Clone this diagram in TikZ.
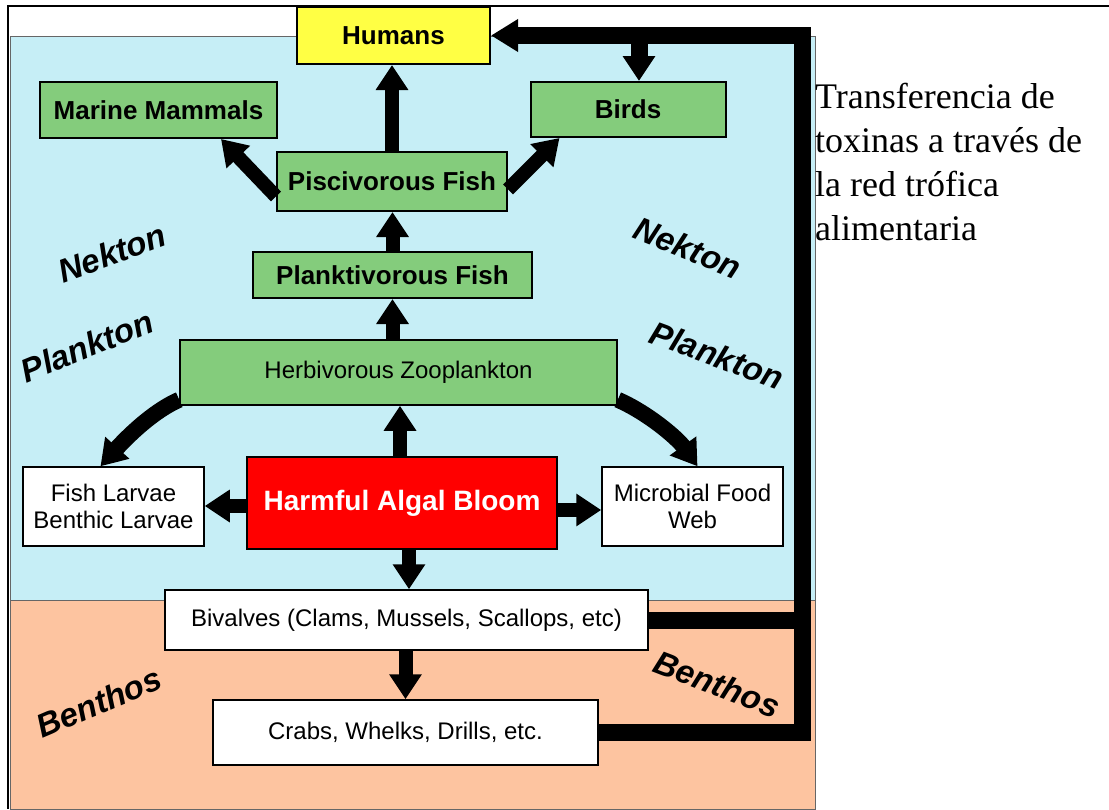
\documentclass[tikz,border=0pt]{standalone}
\usepackage{fontspec}
\setmainfont{Liberation Sans}
\newfontfamily\tnrfont{Liberation Serif}
\usetikzlibrary{arrows.meta}
\definecolor{seaBlue}{RGB}{198,238,246}
\definecolor{sandCol}{RGB}{253,196,160}
\definecolor{boxGreen}{RGB}{132,204,124}
\definecolor{boxYellow}{RGB}{255,255,68}

\begin{document}
\begin{tikzpicture}[x=1pt,y=-1pt,
  bx/.style={draw=black,line width=2pt,inner sep=0pt,align=center},
  grn/.style={bx,fill=boxGreen,font=\fontsize{26}{30}\selectfont\bfseries},
  wht/.style={bx,fill=white,line width=1.5pt,font=\fontsize{24}{27}\selectfont},
  fat/.style={line width=14pt,-{Triangle[length=25pt,width=31pt]}},
  feed/.style={line width=17pt},
  zone/.style={font=\fontsize{33}{33}\selectfont\bfseries\itshape}]
\useasboundingbox (0,0) rectangle (1109,809);

% water and bottom
\filldraw[fill=seaBlue,draw=black!60,line width=0.8pt] (10,36) rectangle (815,600);
\filldraw[fill=sandCol,draw=black!60,line width=0.8pt] (10,600) rectangle (815,809);
\draw[line width=2pt] (1109,6) -- (8,6) -- (8,809);

\coordinate (cTopR) at (802,35.5);
\coordinate (cDrop) at (639,35.5);

\node[bx,fill=boxYellow,minimum width=193pt,minimum height=57pt,
  font=\fontsize{26}{30}\selectfont\bfseries] (nHum) at (393.5,35.5) {Humans};
\node[grn,minimum width=237pt,minimum height=56pt] (nMM) at (158.5,110) {Marine Mammals};
\node[grn,minimum width=195pt,minimum height=55pt] (nBirds) at (628,109.5) {Birds};
\node[grn,minimum width=230pt,minimum height=59pt] (nPisc) at (392,181.5) {Piscivorous Fish};
\node[grn,minimum width=279pt,minimum height=46pt] (nPlank) at (392.5,275) {Planktivorous Fish};
\node[bx,fill=boxGreen,line width=1.5pt,minimum width=437pt,minimum height=65pt,
  font=\fontsize{24}{27}\selectfont] (nZoo) at (398.5,372.5) {Herbivorous Zooplankton};
\node[wht,minimum width=181pt,minimum height=79pt] (nLarv) at (113.5,506.5) {Fish Larvae\\Benthic Larvae};
\node[bx,fill=red,minimum width=310pt,minimum height=92pt,text=white,
  font=\fontsize{28}{32}\selectfont\bfseries] (nHab) at (402,503) {Harmful Algal Bloom};
\node[wht,minimum width=181pt,minimum height=79pt] (nMic) at (692.5,506.5) {Microbial Food\\Web};
\node[wht,minimum width=483pt,minimum height=60pt] (nBiv) at (406.5,620) {Bivalves (Clams, Mussels, Scallops, etc)};
\node[wht,minimum width=385pt,minimum height=65pt] (nCrab) at (405.5,732.5) {Crabs, Whelks, Drills, etc.};

\draw[fat] (nPisc.north) -- (nPisc.north |- nHum.south);
\draw[fat] (nPlank.north) -- (nPlank.north |- nPisc.south);
\draw[fat] (nZoo.north -| nPlank) -- (nPlank.south);
\draw[fat] ([xshift=-2pt]nHab.north) -- ([xshift=-2pt]nHab.north |- nZoo.south);
\draw[fat] ([yshift=-3pt]nHab.west) -- ([yshift=-3pt]nHab.west -| nLarv.east);
\draw[fat] ([yshift=-7pt]nHab.east) -- ([yshift=-7pt]nHab.east -| nMic.west);
\draw[fat] ([xshift=7pt]nHab.south) -- ([xshift=7pt]nHab.south |- nBiv.north);
\draw[fat] ([xshift=-1pt]nBiv.south) -- ([xshift=-1pt]nBiv.south |- nCrab.north);
\draw[fat] ([yshift=-15pt]nPisc.west) -- ([xshift=-57pt]nMM.south east);
\draw[fat] ([yshift=-8pt]nPisc.east) -- ([xshift=30pt]nBirds.south west);
\draw[fat,line width=16pt] ([yshift=6pt]nZoo.south west) .. controls +(-30,13) and +(20,-22) .. ([xshift=-13pt]nLarv.north);
\draw[fat,line width=16pt] ([yshift=6pt]nZoo.south east) .. controls +(30,13) and +(-20,-28) .. ([xshift=5pt]nMic.north);

% toxins back to the top
\draw[feed,-{Triangle[length=27pt,width=31pt]}] (nCrab.east) -| (cTopR) -- (nHum.east);
\draw[feed] (nBiv.east) -- (nBiv.east -| cTopR);
\draw[fat,line width=17pt] (cDrop) -- (cDrop |- nBirds.north);

\node[zone,rotate=20] (nNekL) at (112,253) {Nekton};
\node[zone,rotate=22] (nPlaL) at (87,346) {Plankton};
\node[zone,rotate=23] (nBenL) at (99,702) {Benthos};
\node[zone,rotate=-22] (nNekR) at (688,248) {Nekton};
\node[zone,rotate=-20] (nPlaR) at (717,355) {Plankton};
\node[zone,rotate=-21] (nBenR) at (717,684) {Benthos};

\node[anchor=north west,inner sep=0pt,align=left,
  font=\tnrfont\fontsize{36}{44}\selectfont] (nNote) at (815,83)
  {Transferencia de\\toxinas a trav\'es de\\la red tr\'ofica\\alimentaria};
\end{tikzpicture}
\end{document}
